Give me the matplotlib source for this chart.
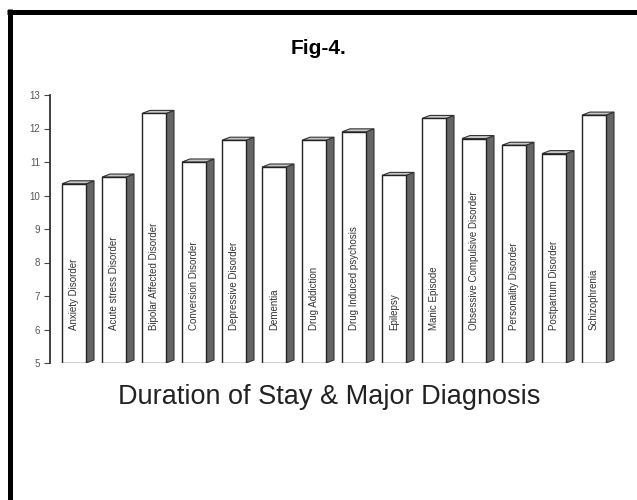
import matplotlib.pyplot as plt
from matplotlib.patches import Polygon, Rectangle
from matplotlib.lines import Line2D

plt.rcParams['font.family'] = ['Liberation Sans', 'DejaVu Sans']

# mean duration of stay per major diagnosis
diagnoses = ['Anxiety Disorder', 'Acute stress Disorder', 'Bipolar Affected Disorder',
             'Conversion Disorder', 'Depressive Disorder', 'Dementia', 'Drug Addiction',
             'Drug Induced psychosis', 'Epilepsy', 'Manic Episode',
             'Obsessive Compulsive Disorder', 'Personality Disorder',
             'Postpartum Disorder', 'Schizophrenia']
stay = [10.35, 10.55, 12.45, 11.0, 11.65, 10.85, 11.65, 11.9, 10.6, 12.3,
        11.7, 11.5, 11.25, 12.4]
yticks = [5, 6, 7, 8, 9, 10, 11, 12, 13]

base = 5
w = 0.6      # front face width
dx = 0.2     # depth of the side face
dy = 0.09    # rise of the top face

fig = plt.figure(figsize=(6.37, 5.0), dpi=100)
ax = fig.add_axes([50/637, 137/500, 576/637, 268/500])

for i, (name, v) in enumerate(zip(diagnoses, stay)):
    x0, x1 = i - w/2, i + w/2
    # side face
    ax.add_patch(Polygon([(x1, base), (x1 + dx, base + dy), (x1 + dx, v + dy), (x1, v)],
                         closed=True, facecolor='#656565', edgecolor='#333333', lw=0.8))
    # top face
    ax.add_patch(Polygon([(x0, v), (x0 + dx, v + dy), (x1 + dx, v + dy), (x1, v)],
                         closed=True, facecolor='#c8c8c8', edgecolor='#333333', lw=0.8))
    # front face
    ax.add_patch(Rectangle((x0, base), w, v - base, facecolor='white',
                           edgecolor='#222222', lw=1.0))
    ax.text(i, 6.0, name, rotation=90, ha='center', va='bottom',
            fontsize=7, color='#333333')

ax.set_xlim(-0.6, 13.8)
ax.set_ylim(5, 13)
ax.set_yticks(yticks)
ax.set_xticks([])
ax.tick_params(axis='y', labelsize=7, labelcolor='#555555', color='#444444',
               length=4, width=0.8, pad=3)
for s in ['top', 'right', 'bottom']:
    ax.spines[s].set_visible(False)
ax.spines['left'].set_color('#333333')
ax.spines['left'].set_linewidth(1.3)

fig.text(0.5, 0.904, 'Fig-4.', ha='center', va='center', fontsize=15,
         fontweight='bold')
fig.text(0.517, 0.206, 'Duration of Stay & Major Diagnosis', ha='center',
         va='center', fontsize=19.5, color='#222222')

# heavy frame on the left and top edges
fig.add_artist(Line2D([9.5/637, 9.5/637], [0, 1 - 9/500], transform=fig.transFigure,
                      color='black', lw=3.6, solid_capstyle='butt'))
fig.add_artist(Line2D([7/637, 1], [1 - 11.5/500, 1 - 11.5/500], transform=fig.transFigure,
                      color='black', lw=3.6, solid_capstyle='butt'))

fig.savefig('out.png', dpi=100)
